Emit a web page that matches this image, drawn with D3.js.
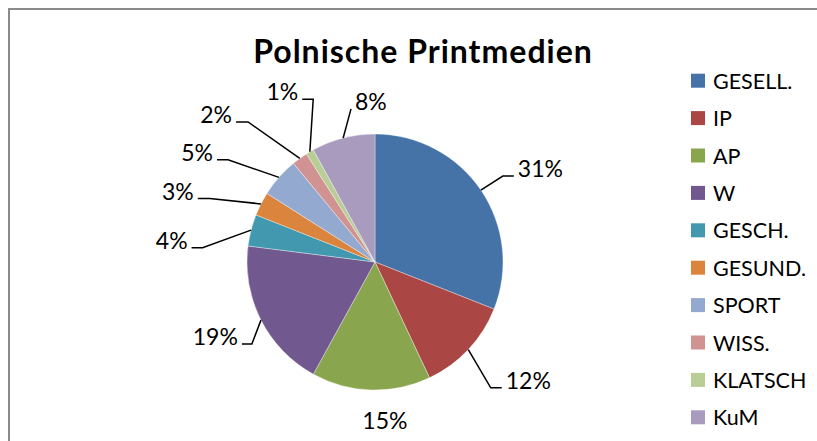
<!DOCTYPE html>
<html lang="de">
<head>
    <meta charset="utf-8">
    <script src="https://d3js.org/d3.v7.min.js"></script>
    <style>
        body { margin: 0; background: white; }
        text { font-family: Lato, "Open Sans", sans-serif; fill: #000; }
        .title { font-weight: bold; font-size: 32px; letter-spacing: 1px; text-anchor: middle; }
        .lbl { font-size: 23px; }
        .leg { font-size: 21.5px; dominant-baseline: central; }
        path.lead { fill: none; stroke: #000; stroke-width: 1.5px; }
        path.frame { fill: none; stroke: #8a8a8a; stroke-width: 2px; }
    </style>
</head>
<body>
<script>
    // Daten
    const categories = ["GESELL.", "IP", "AP", "W", "GESCH.", "GESUND.", "SPORT", "WISS.", "KLATSCH", "KuM"];
    const shares = [31, 12, 15, 19, 4, 3, 5, 2, 1, 8];
    const colours = ["#4572A7", "#AA4643", "#89A54E", "#71588F", "#4198AF",
                     "#DB843D", "#93A9CF", "#D19392", "#B9CD96", "#A99BBD"];

    // where the labels sit: angle (deg from top, clockwise), distance from centre,
    // length of the flat tail and which side the text goes
    const labelSpot = [
        {a: 56.1, r: 154, tail: 11, dir: 1},
        {a: 137.4, r: 171, tail: 11, dir: 1},
        {a: 176.6, r: 167, tail: 0, dir: 0},   // 15% has no leader line
        {a: 236.3, r: 148, tail: 10, dir: -1},
        {a: 274.7, r: 173, tail: 11, dir: -1},
        {a: 291, r: 177, tail: 12, dir: -1},
        {a: 304.8, r: 179, tail: 11, dir: -1},
        {a: 317.8, r: 189, tail: 12, dir: -1},
        {a: 339.2, r: 174, tail: 11, dir: -1},
        {a: 351.1, r: 155, tail: 0, dir: 1}
    ];

    const W = 817, H = 441;
    const cx = 375, cy = 262, R = 128;

    let svg = d3.select("body").append("svg")
        .attr("width", W).attr("height", H);

    // chart frame (only left/top visible)
    svg.append("path").attr("class", "frame")
        .attr("d", "M9," + H + " V9 H" + W);

    svg.append("text").attr("class", "title")
        .attr("x", 423).attr("y", 63)
        .text("Polnische Printmedien");

    let colour = d3.scaleOrdinal().domain(categories).range(colours);

    let pie = d3.pie().sort(null).value(function (d, i) { return shares[i]; });
    let arcs = pie(categories);
    let arc = d3.arc().innerRadius(0).outerRadius(R);

    let g = svg.append("g").attr("transform", "translate(" + cx + "," + cy + ")");

    g.selectAll("path.slice").data(arcs).enter().append("path")
        .attr("class", "slice")
        .attr("d", arc)
        .attr("fill", function (d) { return colour(d.data); })
        .attr("stroke", "rgba(255,255,255,0.6)")
        .attr("stroke-width", 0.6);

    function polar(angDeg, r) {
        let a = angDeg * Math.PI / 180;
        return [r * Math.sin(a), -r * Math.cos(a)];
    }

    // leader lines + labels
    arcs.forEach(function (d, i) {
        let s = labelSpot[i];
        let mid = (d.startAngle + d.endAngle) / 2 * 180 / Math.PI;
        let p0 = polar(mid, R);
        let p1 = polar(s.a, s.r);
        let txt = shares[i] + "%";
        if (s.dir === 0) {
            g.append("text").attr("class", "lbl")
                .attr("x", p1[0]).attr("y", p1[1])
                .attr("text-anchor", "middle")
                .text(txt);
            return;
        }
        let p2 = [p1[0] + s.dir * s.tail, p1[1]];
        g.append("path").attr("class", "lead")
            .attr("d", "M" + p0 + " L" + p1 + " L" + p2);
        g.append("text").attr("class", "lbl")
            .attr("x", p2[0] + s.dir * 4).attr("y", p2[1] + 1)
            .attr("text-anchor", s.dir > 0 ? "start" : "end")
            .text(txt);
    });

    // legend
    let rows = d3.scaleBand().domain(categories).range([62, 436]);
    let leg = svg.append("g").selectAll("g").data(categories).enter().append("g")
        .attr("transform", function (d) {
            return "translate(691," + (rows(d) + rows.bandwidth() / 2) + ")";
        });
    leg.append("rect")
        .attr("x", 0).attr("y", -7).attr("width", 14).attr("height", 14)
        .attr("fill", function (d) { return colour(d); });
    leg.append("text").attr("class", "leg")
        .attr("x", 22).attr("y", 0)
        .text(function (d) { return d; });
</script>
</body>
</html>
